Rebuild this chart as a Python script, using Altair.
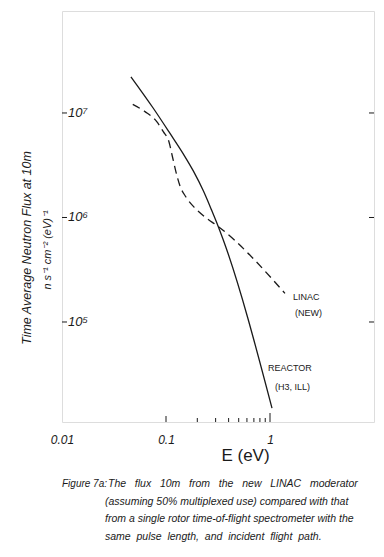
import altair as alt
import pandas as pd

# ---- data ----
reactor_E = [0.046, 0.0755, 0.1093, 0.1466, 0.183, 0.2285, 0.275, 0.3185, 0.3556, 1.045]
reactor_F = [2.22e7, 1.11e7, 6.37e6, 4.06e6, 2.79e6, 1.80e6, 1.17e6, 8.17e5, 6.10e5, 1.50e4]

linac_E = [0.0479, 0.0628, 0.0815, 0.0942, 0.1069, 0.1155, 0.1248, 0.1364,
           0.1556, 0.190, 0.246, 0.3126, 1.393]
linac_F = [1.21e7, 1.03e7, 8.26e6, 6.62e6, 5.28e6, 3.79e6, 2.72e6, 2.00e6,
           1.57e6, 1.23e6, 9.82e5, 8.30e5, 1.88e5]

x_label_values = [0.01, 0.1, 1]
x_minor_ticks = [0.2, 0.3, 0.4, 0.5, 0.6, 0.7, 0.8, 0.9]
x_major_ticks = [0.1]
x_unit_tick = [1]
y_tick_values = [1e5, 1e6, 1e7]
y_tick_labels = ["10⁵", "10⁶", "10⁷"]

y_title = ["Time Average Neutron Flux at 10m", "n s⁻¹ cm⁻² (eV)⁻¹"]
caption_head = "Figure 7a:"
caption_lines = [
    "The flux 10m from the new LINAC moderator",
    "(assuming 50% multiplexed use) compared with that",
    "from a single rotor time-of-flight spectrometer with the",
    "same pulse length, and incident flight path.",
]

INK = "#1a1a1a"
FONT = "Liberation Sans"
W, H = 312, 411

xscale = alt.Scale(type="log", domain=[0.01, 10], nice=False)
yscale = alt.Scale(type="log", domain=[11040, 9.46e7], nice=False)

reactor = pd.DataFrame({"E": reactor_E, "F": reactor_F})
linac = pd.DataFrame({"E": linac_E, "F": linac_F})

xaxis = alt.Axis(values=x_label_values, ticks=False, domain=False, grid=False,
                 labelExpr="datum.value == 0.01 ? '0.01' : datum.value == 0.1 ? '0.1' : '1'",
                 labelFontSize=12, labelFont=FONT, labelFontStyle="italic",
                 labelColor=INK, labelPadding=12, labelFlush=False,
                 title="E (eV)", titleFontSize=17, titleFont=FONT, titleFontWeight="normal",
                 titleColor=INK, titleX=183, titleY=33, titleAlign="center",
                 titleBaseline="middle")

line_reactor = alt.Chart(reactor).mark_line(
    color=INK, strokeWidth=1.3, interpolate="monotone"
).encode(
    x=alt.X("E:Q", scale=xscale, axis=xaxis),
    y=alt.Y("F:Q", scale=yscale, axis=None),
)

line_linac = alt.Chart(linac).mark_line(
    color=INK, strokeWidth=1.3, strokeDash=[8, 5], interpolate="monotone"
).encode(
    x=alt.X("E:Q", scale=xscale),
    y=alt.Y("F:Q", scale=yscale),
)

def xticks(vals, length):
    return alt.Chart(pd.DataFrame({"v": vals})).mark_rule(
        color=INK, strokeWidth=1
    ).encode(
        x=alt.X("v:Q", scale=xscale),
        y=alt.value(H), y2=alt.value(H - length),
    )

ydf = pd.DataFrame({"v": y_tick_values, "lab": y_tick_labels})
yticks_left = alt.Chart(ydf).mark_rule(color=INK, strokeWidth=1).encode(
    y=alt.Y("v:Q", scale=yscale), x=alt.value(0), x2=alt.value(5))
yticks_right = alt.Chart(ydf).mark_rule(color=INK, strokeWidth=1).encode(
    y=alt.Y("v:Q", scale=yscale), x=alt.value(W), x2=alt.value(W - 5))
ylabels = alt.Chart(ydf).mark_text(
    align="left", baseline="middle", fontSize=13, font=FONT, fontStyle="italic", color=INK
).encode(y=alt.Y("v:Q", scale=yscale), x=alt.value(6), text="lab:N")

def label(txt, x, y, size=9, angle=0, align="left", style="normal"):
    return alt.Chart(pd.DataFrame({"t": [txt]})).mark_text(
        align=align, baseline="middle", fontSize=size, font=FONT, color=INK,
        angle=angle, fontStyle=style
    ).encode(x=alt.value(x), y=alt.value(y), text="t:N")

NB = "\u00a0"
def widen(s):
    return s.replace(" ", NB + NB + " ")

annotations = [
    label("LINAC", 231, 286),
    label("(NEW)", 233, 302),
    label("REACTOR", 206, 357),
    label("(H3, ILL)", 213, 376),
    label(y_title[0], -35, 237, size=12.5, angle=270, align="center", style="italic"),
    label(y_title[1], -14, 239, size=11, angle=270, align="center", style="italic"),
    label(caption_head, 0, 473, size=10, style="italic"),
]
cap_text = [widen(caption_lines[0]), caption_lines[1], caption_lines[2],
            caption_lines[3].replace(" ", NB + " ")]
cap_y = [473, 490.5, 508, 525.5]
cap_x = [46, 43, 43, 43]
for txt, cx, cy in zip(cap_text, cap_x, cap_y):
    annotations.append(label(txt, cx, cy, size=10.5, style="italic"))

chart = alt.layer(
    line_reactor, line_linac,
    xticks(x_minor_ticks, 4), xticks(x_major_ticks, 6), xticks(x_unit_tick, 9),
    yticks_left, yticks_right, ylabels,
    *annotations,
).properties(
    width=W, height=H,
    autosize=alt.AutoSizeParams(type="none"),
    padding={"left": 54, "top": 3, "right": 2, "bottom": 127},
).configure_view(
    stroke=INK, strokeWidth=1.5
).configure(background="white")

chart.save("out.html", embed_options={"renderer": "svg", "actions": False})
